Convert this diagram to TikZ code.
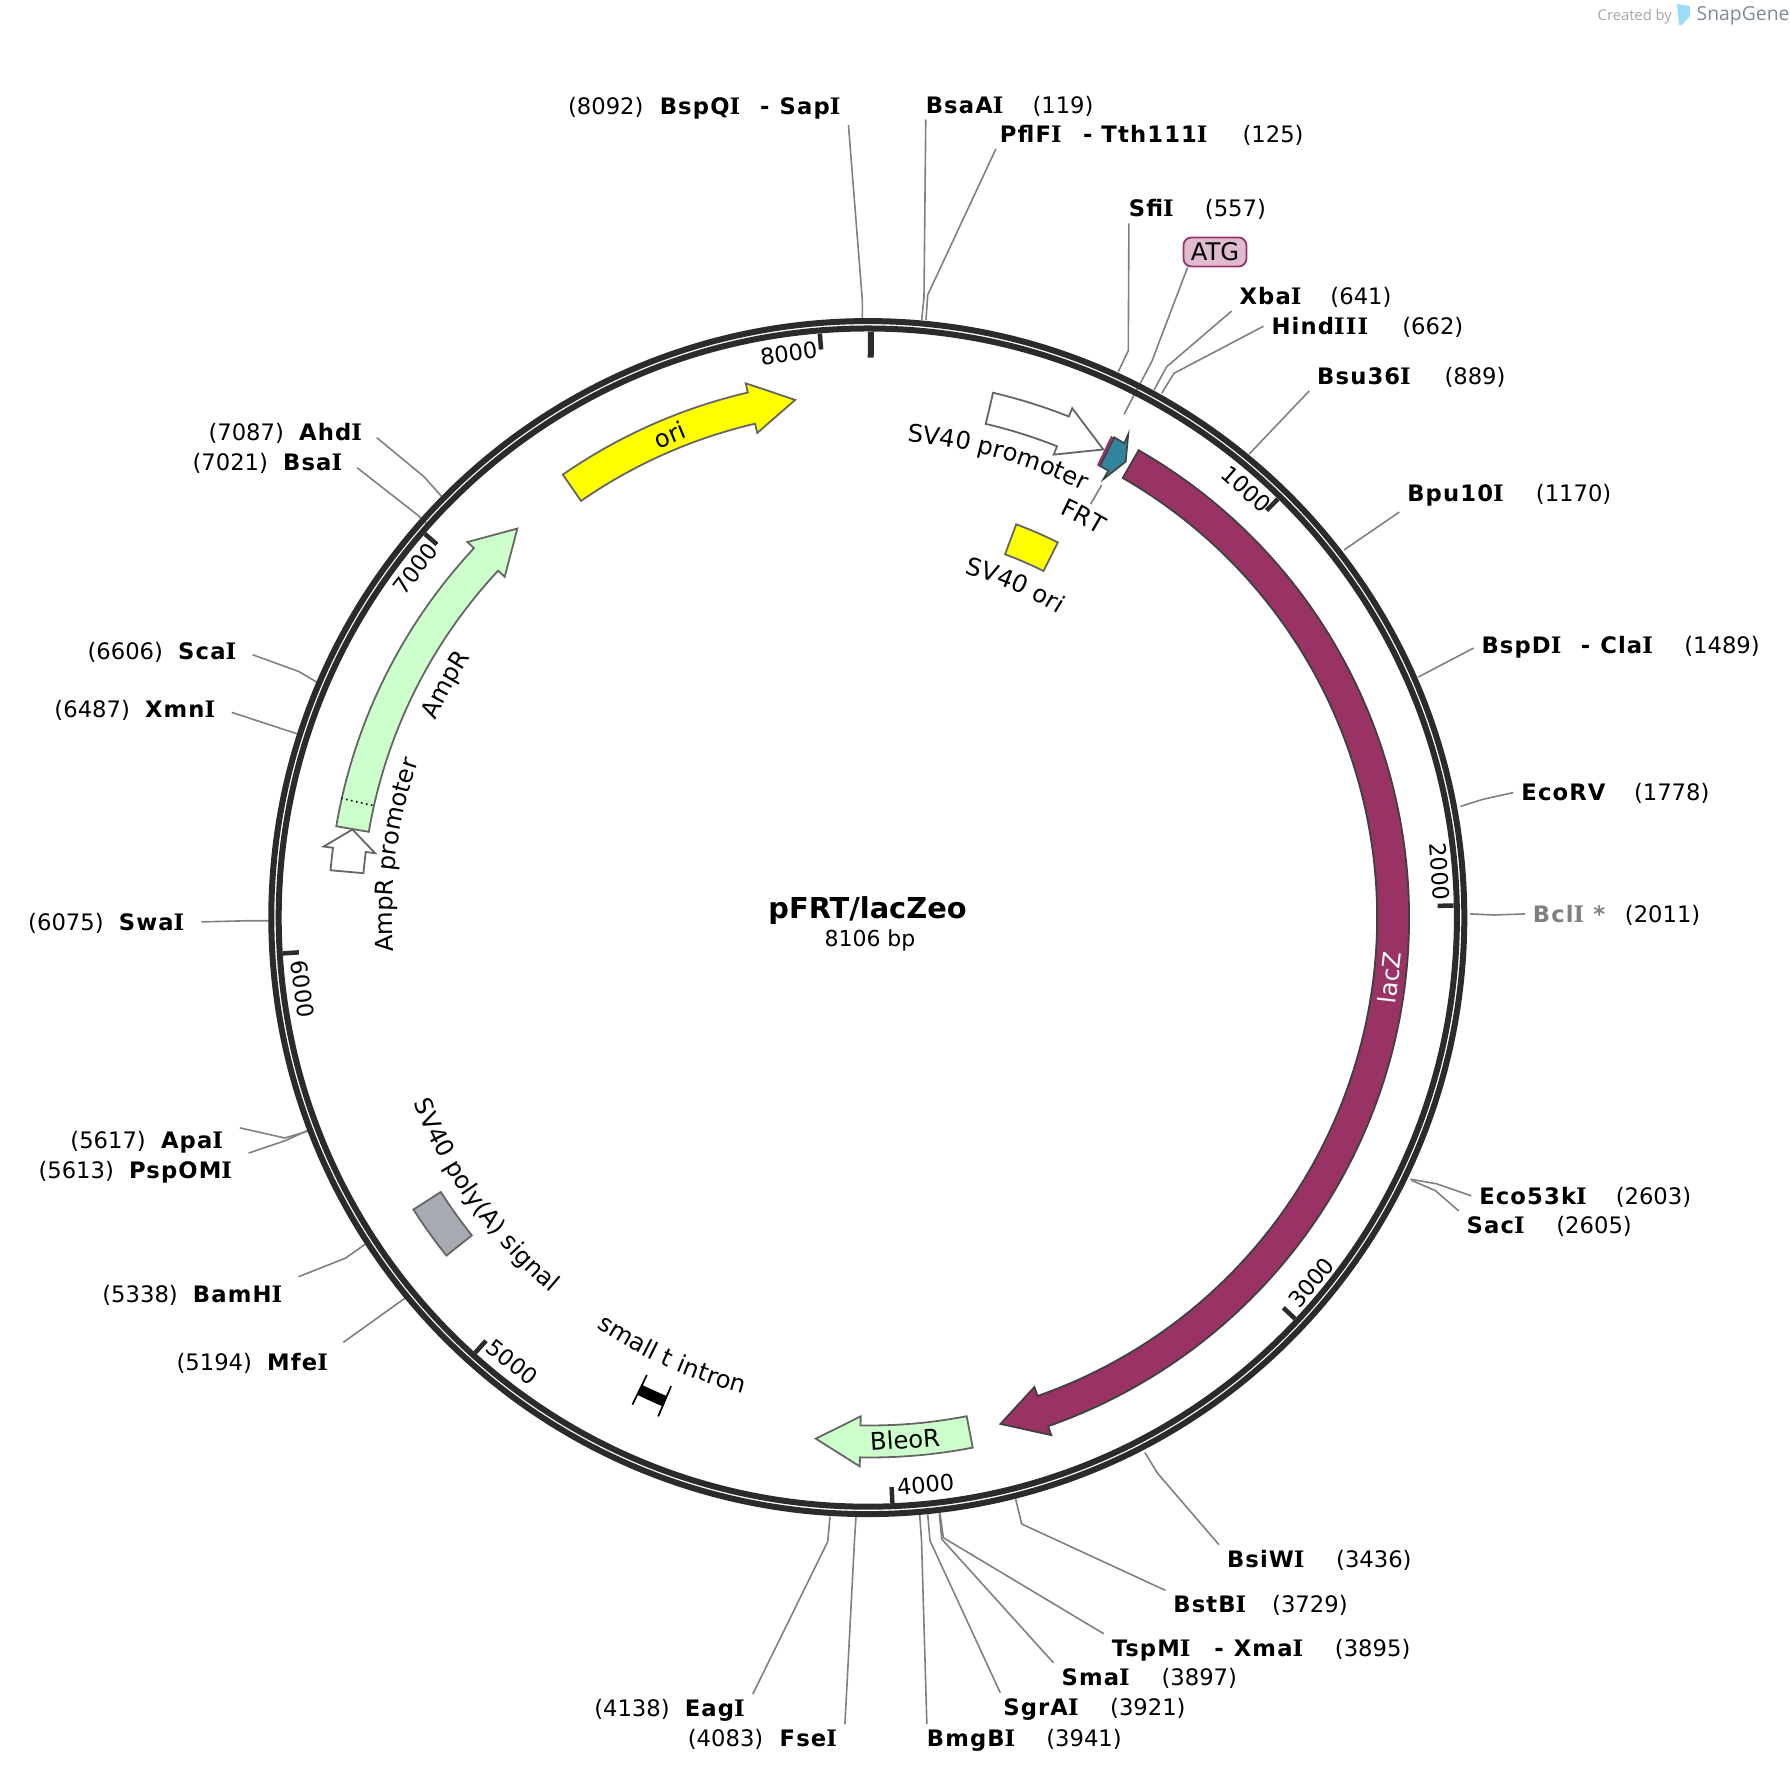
\documentclass[tikz,border=0pt]{standalone}
\usepackage{fontspec}
\setmainfont{DejaVu Sans}
\newfontfamily\sitefont[LetterSpace=5]{DejaVu Sans Bold}
\newfontfamily\serifbold[LetterSpace=5]{DejaVu Serif Bold}
\newfontfamily\logofont{Open Sans}
\usetikzlibrary{decorations.text}
\definecolor{ringgray}{HTML}{2B2B2B}
\definecolor{lacz}{HTML}{993366}
\definecolor{ampgreen}{HTML}{CCFFCC}
\definecolor{frtteal}{HTML}{31849B}
\definecolor{polygray}{HTML}{A6ABB3}
\definecolor{atgpink}{HTML}{DFBBD0}
\definecolor{puregold}{RGB}{255,255,0}
\definecolor{logoblue}{HTML}{9BDCF8}
\definecolor{logoslate}{HTML}{7F8A96}
\newcommand{\ftrfont}{\fontsize{6.9}{9}\selectfont}
\newcommand{\sI}{{\serifbold I}}
\tikzset{
	sitename/.style={anchor=base west, inner sep=0pt, outer xsep=0.08cm, outer ysep=0.06cm, xshift=-0.08cm, yshift=0.0cm, font=\fontsize{6.45}{8}\sitefont},
	sitepos/.style={anchor=base west, inner sep=0pt, font=\fontsize{6.45}{8}\selectfont},
	leader/.style={draw=black!50, line width=0.016cm},
	leaderl/.style={leader, shorten <=0.09cm},
	ticktext/.style={inner sep=0pt, font=\fontsize{6.4}{8}\selectfont},
	ticks/.style={draw=ringgray, line width=0.045cm},
	feature/.style={draw=black!60, line width=0.018cm},
	ftrtext/.style={inner sep=0pt, font=\ftrfont}
}
% arrow along the circle: (start:head:tip)(radius:half width:half head width)
\def\arcarrow[#1](#2:#3:#4)(#5:#6:#7){\draw[#1] (#2:#5+#6) arc (#2:#3:#5+#6) -- (#3:#5+#7) -- (#4:#5) -- (#3:#5-#7) -- (#3:#5-#6) arc (#3:#2:#5-#6) -- cycle;}
\def\arclabel(#1:#2:#3)#4{\path[decorate, decoration={text along path, text align=center, text={|\ftrfont|#4}}] (#1:#3) arc (#1:#2:#3);}

\begin{document}
\begin{tikzpicture}[x=0.01cm, y=0.01cm]
	\useasboundingbox (0, 0) rectangle (1790, -1774);

	%%%%% SITES %%%%%
	\begin{scope}[shift={(-1, -1.44)}, scale=0.9978]
		\node[sitepos] (sapi-pos) at (569.6, -113) {(8092)};
		\node[sitename] (bspqi) at (662.3, -113) {BspQ\sI};
		\node[sitename] (sapi-dash) at (762.9, -113) {-};
		\node[sitename] (sapi) at (782.4, -113) {Sap\sI};
		\node[sitename] (bsaai) at (928.8, -112) {BsaA\sI};
		\node[sitepos] (bsaai-pos) at (1035.1, -112) {(119)};
		\node[sitename] (pflfi) at (1003.1, -141.8) {PflF\sI};
		\node[sitename] (tth-dash) at (1086.6, -141.8) {-};
		\node[sitename] (tth) at (1104.9, -141.8) {Tth111\sI};
		\node[sitepos] (tth-pos) at (1245.6, -141.8) {(125)};
		\node[sitename] (sfii) at (1132.4, -216) {Sfi\sI};
		\node[sitepos] (sfii-pos) at (1207.9, -216) {(557)};
		\node[sitename] (xbai) at (1243.3, -304) {Xba\sI};
		\node[sitepos] (xbai-pos) at (1333.7, -304) {(641)};
		\node[sitename] (hindiii) at (1275.3, -334) {Hind\sI\sI\sI};
		\node[sitepos] (hindiii-pos) at (1405.7, -334) {(662)};
		\node[sitename] (bsu) at (1321.1, -384) {Bsu36\sI};
		\node[sitepos] (bsu-pos) at (1448, -384) {(889)};
		\node[sitename] (bpu) at (1411.4, -501) {Bpu10\sI};
		\node[sitepos] (bpu-pos) at (1539.6, -501) {(1170)};
		\node[sitename] (bspdi) at (1485.8, -654) {BspD\sI};
		\node[sitename] (clai-dash) at (1585.3, -654) {-};
		\node[sitename] (clai) at (1604.8, -654) {Cla\sI};
		\node[sitepos] (clai-pos) at (1688.3, -654) {(1489)};
		\node[sitename] (ecorv) at (1525.8, -801) {EcoRV};
		\node[sitepos] (ecorv-pos) at (1637.9, -801) {(1778)};
		\node[sitename, text=black!50] (bcli) at (1537.3, -923) {Bcl\sI\ *};
		\node[sitepos] (bcli-pos) at (1628.8, -923) {(2011)};
		\node[sitename] (eco) at (1483.5, -1205.5) {Eco53k\sI};
		\node[sitepos] (eco-pos) at (1619.6, -1205.5) {(2603)};
		\node[sitename] (saci) at (1470.9, -1235) {Sac\sI};
		\node[sitepos] (saci-pos) at (1560.1, -1235) {(2605)};
		\node[sitename] (bsiwi) at (1230.7, -1570) {BsiW\sI};
		\node[sitepos] (bsiwi-pos) at (1339.4, -1570) {(3436)};
		\node[sitename] (bstbi) at (1177, -1615) {BstB\sI};
		\node[sitepos] (bstbi-pos) at (1275.3, -1615) {(3729)};
		\node[sitename] (tspmi) at (1115.2, -1658.5) {TspM\sI};
		\node[sitename] (xmai-dash) at (1218.1, -1658.5) {-};
		\node[sitename] (xmai) at (1237.6, -1658.5) {Xma\sI};
		\node[sitepos] (xmai-pos) at (1338.2, -1658.5) {(3895)};
		\node[sitename] (smai) at (1064.9, -1688) {Sma\sI};
		\node[sitepos] (smai-pos) at (1164.4, -1688) {(3897)};
		\node[sitename] (sgrai) at (1006.5, -1718) {SgrA\sI};
		\node[sitepos] (sgrai-pos) at (1112.9, -1718) {(3921)};
		\node[sitename] (bmgbi) at (929.9, -1749) {BmgB\sI};
		\node[sitepos] (bmgbi-pos) at (1048.9, -1749) {(3941)};
		\node[sitepos] (fsei-pos) at (689.7, -1749) {(4083)};
		\node[sitename] (fsei) at (782.4, -1749) {Fse\sI};
		\node[sitepos] (eagi-pos) at (595.9, -1719) {(4138)};
		\node[sitename] (eagi) at (687.4, -1719) {Eag\sI};
		\node[sitepos] (mfei-pos) at (177.3, -1372.5) {(5194)};
		\node[sitename] (mfei) at (268.8, -1372.5) {Mfe\sI};
		\node[sitepos] (bamhi-pos) at (102.9, -1304) {(5338)};
		\node[sitename] (bamhi) at (194.4, -1304) {BamH\sI};
		\node[sitepos] (pspomi-pos) at (38.9, -1180) {(5613)};
		\node[sitename] (pspomi) at (130.4, -1180) {PspOM\sI};
		\node[sitepos] (apai-pos) at (70.9, -1149.5) {(5617)};
		\node[sitename] (apai) at (162.4, -1149.5) {Apa\sI};
		\node[sitepos] (swai-pos) at (28.6, -931) {(6075)};
		\node[sitename] (swai) at (120.1, -931) {Swa\sI};
		\node[sitepos] (xmni-pos) at (54.9, -718) {(6487)};
		\node[sitename] (xmni) at (146.4, -718) {Xmn\sI};
		\node[sitepos] (scai-pos) at (88.1, -660) {(6606)};
		\node[sitename] (scai) at (179.6, -660) {Sca\sI};
		\node[sitepos] (bsai-pos) at (193.3, -470) {(7021)};
		\node[sitename] (bsai) at (284.8, -470) {Bsa\sI};
		\node[sitepos] (ahdi-pos) at (209.3, -440) {(7087)};
		\node[sitename] (ahdi) at (300.8, -440) {Ahd\sI};
	\end{scope}

	%%%%% LEADERS %%%%%
	\coordinate (sapi-end) at (862.3, -318);
	\draw[leader] (sapi.south east) -- (862.3, -300) -- (sapi-end);
	\coordinate (bsaai-end) at (921.7, -320);
	\draw[leader] ([xshift=0.08cm]bsaai.south west) -- (924, -297) -- (bsaai-end);
	\coordinate (pflfi-end) at (926, -320);
	\draw[leader] ([xshift=0.04cm]pflfi.south west) -- (927.7, -295) -- (pflfi-end);
	\coordinate (sfii-end) at (1118.3, -371.7);
	\draw[leader] ([xshift=0.08cm]sfii.south west) -- (1128.3, -350.7) -- (sfii-end);
	\coordinate (xbai-end) at (1154, -390);
	\draw[leader] (xbai.south west) -- (1166.7, -366.7) -- (xbai-end);
	\coordinate (hindiii-end) at (1161.7, -393.3);
	\draw[leader] (hindiii.west) -- (1174, -373.3) -- (hindiii-end);
	\coordinate (bsu-end) at (1249.3, -454);
	\draw[leader] (bsu.south west) -- (bsu-end);
	\coordinate (bpu-end) at (1344, -550);
	\draw[leader] (bpu.south west) -- (bpu-end);
	\coordinate (bspdi-end) at (1418.4, -677);
	\draw[leader] (bspdi.west) -- (bspdi-end);
	\coordinate (ecorv-end) at (1460.6, -806.4);
	\draw[leader] (ecorv.west) -- (1482.3, -799.5) -- (ecorv-end);
	\coordinate (bcli-end) at (1469.8, -913.9);
	\draw[leader] (bcli.west) -- (1493.8, -915) -- (bcli-end);
	\coordinate (eco-end) at (1410.3, -1179.2);
	\draw[leader] (eco.west) -- (1436.6, -1183.8) -- (eco-end);
	\coordinate (saci-end) at (1411.5, -1180.4);
	\draw[leader] (saci.north west) -- (1435.5, -1190.7) -- (saci-end);
	\coordinate (bsiwi-end) at (1144.9, -1452.6);
	\draw[leader] (bsiwi.north west) -- (1157.5, -1473.2) -- (bsiwi-end);
	\coordinate (bstbi-end) at (1015.7, -1499.3);
	\draw[leader] (bstbi.north west) -- (1021.7, -1524) -- (bstbi-end);
	\coordinate (tspmi-end) at (940, -1513.3);
	\draw[leader] (tspmi.north west) -- (943.3, -1537.7) -- (tspmi-end);
	\coordinate (smai-end) at (939.3, -1513.3);
	\draw[leader] (smai.north west) -- (941.7, -1539) -- (smai-end);
	\coordinate (sgrai-end) at (927.7, -1514.3);
	\draw[leader] ([xshift=0.05cm]sgrai.north west) -- (930, -1540.7) -- (sgrai-end);
	\coordinate (bmgbi-end) at (919.7, -1515);
	\draw[leader] ([xshift=0.08cm]bmgbi.north west) -- (921.5, -1540) -- (bmgbi-end);
	\coordinate (fsei-end) at (856, -1516.7);
	\draw[leader] (fsei.north east) -- (854.5, -1540) -- (fsei-end);
	\coordinate (eagi-end) at (830, -1516.7);
	\draw[leader] (eagi.north east) -- (827.7, -1541.7) -- (eagi-end);
	\coordinate (mfei-end) at (404.9, -1298.2);
	\draw[leaderl] (mfei.north east) -- (mfei-end);
	\coordinate (bamhi-end) at (364.9, -1244.5);
	\draw[leaderl] (bamhi.north east) -- (345.4, -1258.2) -- (bamhi-end);
	\coordinate (pspomi-end) at (308.8, -1130);
	\draw[leaderl] (pspomi.north east) -- (286, -1140.4) -- (pspomi-end);
	\coordinate (apai-end) at (307.7, -1131.2);
	\draw[leaderl] (apai.north east) -- (284.8, -1138) -- (apai-end);
	\coordinate (swai-end) at (270, -920.8);
	\draw[leaderl] (swai.east) -- (245.9, -920.8) -- (swai-end);
	\coordinate (xmni-end) at (298.5, -734.3);
	\draw[leaderl] (xmni.east) -- (xmni-end);
	\coordinate (scai-end) at (318, -682.8);
	\draw[leaderl] (scai.east) -- (298.5, -671.4) -- (scai-end);
	\coordinate (bsai-end) at (427.8, -525);
	\draw[leaderl] (bsai.east) -- (418.6, -515.8) -- (bsai-end);
	\coordinate (ahdi-end) at (441.5, -496.4);
	\draw[leaderl] (ahdi.east) -- (424.3, -477) -- (ahdi-end);

	%%%%% ATG AND FRT %%%%%
	\node[draw=lacz, fill=atgpink, rounded corners=0.08cm, line width=0.018cm, minimum width=0.63cm, minimum height=0.29cm, inner sep=0pt, font=\fontsize{6.9}{8}\selectfont] (atg) at (1215, -252) {ATG};
	\coordinate (atg-end) at (1124, -414.3);
	\draw[leader] ([xshift=0.05cm]atg.south west) -- (1151.7, -361.7) -- (atg-end);
	\coordinate (frt-a) at (1101.7, -485);
	\coordinate (frt-b) at (1090.7, -504);
	\draw[leader] (frt-a) -- (frt-b);

	%%%%% RING %%%%%
	\begin{scope}[shift={(867.8, -917.6)}]
		\draw[draw=ringgray, line width=0.06cm] (0, 0) circle (596.5);
		\draw[draw=ringgray, line width=0.06cm] (0, 0) circle (589.1);

		\draw[draw=ringgray, line width=0.06cm] (89.7:586) -- (89.7:560);
		\draw[ticks] (45.59:586) -- (45.59:570);
		\draw[ticks] (1.18:586) -- (1.18:570);
		\draw[ticks] (-43.2:586) -- (-43.2:570);
		\draw[ticks] (-87.6:586) -- (-87.6:570);
		\draw[ticks] (-132.06:586) -- (-132.06:570);
		\draw[ticks] (-176.5:586) -- (-176.5:570);
		\draw[ticks] (139.1:586) -- (139.1:570);
		\draw[ticks] (94.7:586) -- (94.7:570);
	\end{scope}

	\begin{scope}[shift={(870, -917.5)}]
		\node[ticktext, rotate=-41.3] (tick1000) at (48.7:570) {1000};
		\node[ticktext, rotate=-86] (tick2000) at (4.6:572) {2000};
		\node[ticktext, rotate=49.9] (tick3000) at (-39.6:573) {3000};
		\node[ticktext, rotate=5.6] (tick4000) at (-84.4:570) {4000};
		\node[ticktext, rotate=-38.8] (tick5000) at (-128.8:571) {5000};
		\node[ticktext, rotate=-82.8] (tick6000) at (-172.8:572) {6000};
		\node[ticktext, rotate=52.5] (tick7000) at (142.5:573) {7000};
		\node[ticktext, rotate=8.2] (tick8000) at (98.2:570) {8000};

		%%%%% FEATURES %%%%%
		\arcarrow[draw=black!75, line width=0.018cm, fill=lacz](60.1:-70.7:-75.55)(523:16:25.5);
		\node[ftrtext, text=white, rotate=83.4] (laczlbl) at (-6.6:523) {lacZ};

		\arcarrow[feature, fill=puregold](124.75:103.1:98.23)(523:16:25.5);
		\node[ftrtext, rotate=22.5] (orilbl) at (112.5:522.6) {ori};

		\arcarrow[feature, fill=ampgreen](170.3:137:132.2)(525:16.5:25.5);
		\draw[black, line width=0.016cm, densely dotted] (167.3:510) -- (167.3:542);
		\arcarrow[feature, fill=white](175:172.6:170.35)(525:16.5:26);

		\arcarrow[feature, fill=ampgreen](-79.03:-91.07:-95.94)(524:16:25);
		\node[ftrtext, rotate=3.84] (bleorlbl) at (-86.16:523) {BleoR};

		\arcarrow[feature, fill=white](76.8:68.35:63.5)(523:16:25);

		\draw[feature, fill=puregold] (69.6:419.5) arc (69.6:63.4:419.5) -- (63.4:387.5) arc (63.4:69.6:387.5) -- cycle;
		\draw[feature, fill=polygray] (-147.4:542) arc (-147.4:-141.4:542) -- (-141.4:509.5) arc (-141.4:-147.4:509.5) -- cycle;

		\draw[black, line width=0.017cm] (-116:509) -- (-116:542);
		\draw[black, line width=0.017cm] (-113:509) -- (-113:542);
		\draw[black, line width=0.11cm] (-116:525.5) arc (-116:-113:525.5);

		\arclabel(202.55:142.55:478){AmpR promoter}
		\arclabel(181.3:121.3:477){AmpR}
		\arclabel(104.5:44.5:477){SV40 promoter}
		\arclabel(92:32:446){FRT}
		\arclabel(96.4:36.4:357){SV40 ori}
		\arclabel(185.85:245.85:493){SV40 poly(A) signal}
		\arclabel(215.75:275.75:493){small t intron}
	\end{scope}

	\draw[draw=lacz, line width=0.03cm] (1112.3, -436.7) -- (1098.3, -466);
	\draw[draw=black!75, line width=0.016cm, fill=frtteal] (1114.3, -437.3) -- (1124.3, -443.3) -- (1128.3, -434) -- (1125.7, -461.7) -- (1103.3, -479.3) -- (1108.3, -470.7) -- (1100, -466) -- cycle;

	%%%%% TITLE %%%%%
	\node[inner sep=0pt, font=\fontsize{8.2}{10}\bfseries] (title) at (867.5, -910.5) {pFRT/lacZeo};
	\node[inner sep=0pt, font=\fontsize{6.25}{8}\selectfont] (length) at (870, -940) {8106 bp};

	%%%%% LOGO %%%%%
	\node[anchor=base west, inner sep=0pt, text=black!35, font=\fontsize{4.2}{5}\logofont] (created) at (1597, -21) {Created by};
	\fill[fill=logoblue] (1677, -4) -- (1690, -6) -- (1690, -16) -- (1682, -25) -- (1679, -25) -- cycle;
	\node[anchor=base west, inner sep=0pt, text=logoslate, font=\fontsize{5.5}{7}\logofont] (snapgene) at (1696, -21) {SnapGene};
\end{tikzpicture}
\end{document}
